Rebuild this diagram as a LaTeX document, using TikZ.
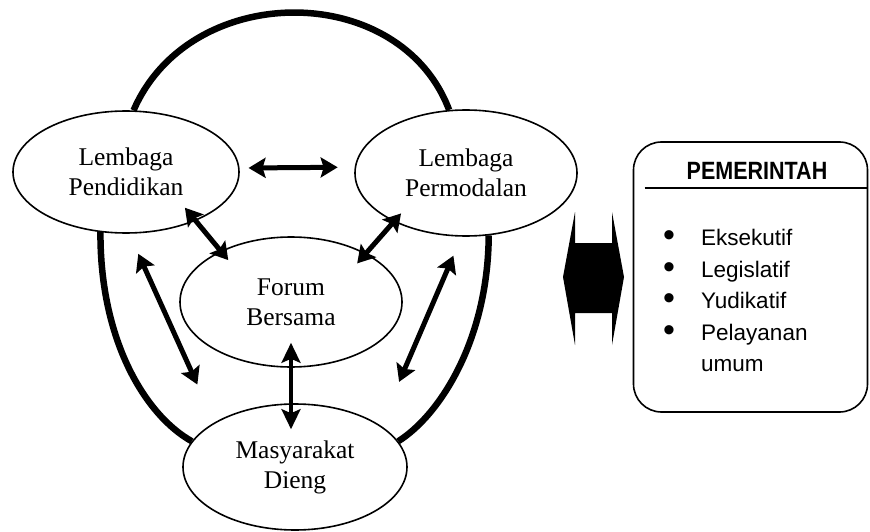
\documentclass[tikz,border=0pt]{standalone}
\usepackage{fontspec}
\setmainfont{Liberation Serif}
\setsansfont{Liberation Sans}
\newfontfamily\narrowsf{Liberation Sans}[FakeStretch=0.86]
\usetikzlibrary{arrows.meta, shapes.geometric, positioning}
\tikzstyle{inst}=[ellipse, draw, line width=1.6pt, inner sep=0pt, align=center, font=\fontsize{25.5}{30}\selectfont]
\tikzstyle{ring}=[line width=6.5pt]
\tikzstyle{link}=[line width=5pt, {Stealth[length=17pt,width=20pt,inset=3pt]}-{Stealth[length=17pt,width=20pt,inset=3pt]}]
\newcommand{\bul}{\makebox[38pt][l]{\smash{\fontsize{34}{10}\selectfont\raisebox{-1pt}{\textbullet}}}}

\begin{document}
\begin{tikzpicture}[x=1pt, y=-1pt]
    \useasboundingbox (0,0) rectangle (870,532);
    \node[inst, minimum width=226pt, minimum height=122pt] (lp) at (126,172) {Lembaga\\Pendidikan};
    \node[inst, minimum width=222pt, minimum height=126pt] (lm) at (466,173) {Lembaga\\Permodalan};
    \node[inst, minimum width=222pt, minimum height=130pt] (fb) at (291,302) {Forum\\Bersama};
    \node[inst, minimum width=224pt, minimum height=126pt] (md) at (295,467) {Masyarakat\\Dieng};

    \draw[ring] (lp.83) .. controls (190,-20) and (400,-20) .. (lm.105);
    \draw[ring] (lp.-113.6) .. controls (100,340) and (145,415) .. (md.166);
    \draw[ring] (lm.-70) .. controls (488,340) and (440,415) .. (md.14);

    \draw[link, shorten <=9pt, shorten >=17pt] (lp.2.5) -- (lm.177);
    \draw[link, shorten <=-17pt, shorten >=-12pt] (lp.-35.7) -- (fb.144.7);
    \draw[link, shorten <=-11pt, shorten >=-13.5pt] (lm.-146) -- (fb.33.7);
    \draw[link, shorten <=22pt, shorten >=41.5pt] (lp.-87.3) -- (md.151);
    \draw[link, shorten <=20.6pt, shorten >=47.3pt] (lm.-94.3) -- (md.26.3);
    \draw[link, line width=3.5pt, {Stealth[length=20pt,width=19pt,inset=4pt]}-{Stealth[length=20pt,width=19pt,inset=4pt]},
      shorten <=-25pt, shorten >=-26pt] (fb.south) -- (fb.south |- md.north);

    \fill (575,212) -- (575,243) -- (612,243) -- (612,212) -- (624,277) -- (612,345) -- (612,313)
      -- (575,313) -- (575,345) -- (563,277) -- cycle;

    \node[draw, line width=1.6pt, rounded corners=28pt, minimum width=234pt, minimum height=270pt] (gov) at (750.5,277) {};
    \node[font=\narrowsf\bfseries\fontsize{25}{30}\selectfont] (title) at (757,171) {PEMERINTAH};
    \draw[line width=1.4pt] ([xshift=12pt]gov.west |- 0,188) -- (gov.east |- 0,188);
    \node[anchor=north west, inner sep=0pt, align=left, font=\sffamily\fontsize{22.5}{31.5}\selectfont] (items) at (663,229)
      {\bul Eksekutif\\ \bul Legislatif\\ \bul Yudikatif\\ \bul Pelayanan\\ \hspace*{38pt}umum};
\end{tikzpicture}
\end{document}
